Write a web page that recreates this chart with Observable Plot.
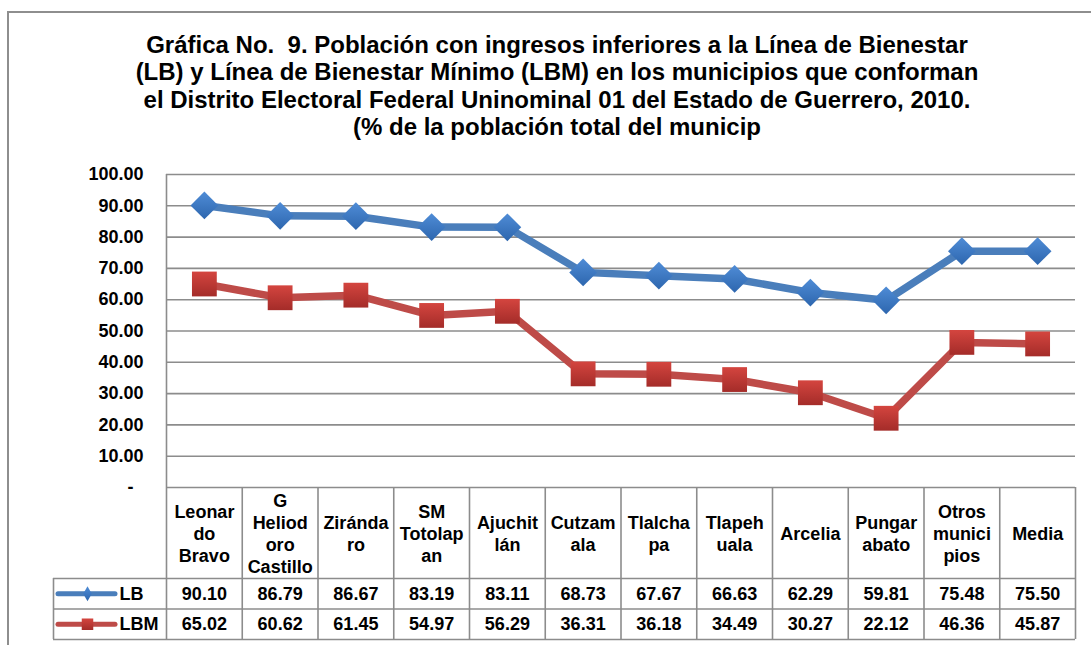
<!DOCTYPE html>
<html><head><meta charset="utf-8">
<script src="https://cdn.jsdelivr.net/npm/d3@7"></script>
<script src="https://cdn.jsdelivr.net/npm/@observablehq/plot@0.6"></script>
<style>
body{margin:0;background:#fff;overflow:hidden}
#wrap{position:relative;width:1091px;height:645px;overflow:hidden;font-family:"Liberation Sans",Arial,sans-serif;background:#fff}
#frame{position:absolute;left:7px;top:11px;width:1200px;height:700px;border:2px solid #8e8e8e;box-sizing:border-box}
#title{position:absolute;left:0;top:31px;width:1114px;text-align:center;font-weight:bold;font-size:24px;line-height:27.3px;color:#000}
#chart{position:absolute;left:0;top:160px}
</style></head><body>
<div id="wrap"><div id="frame"></div>
<div id="title">Gráfica No.&nbsp; 9. Población con ingresos inferiores a la Línea de Bienestar<br>(LB) y Línea de Bienestar Mínimo (LBM) en los municipios que conforman<br>el Distrito Electoral Federal Uninominal 01 del Estado de Guerrero, 2010.<br>(% de la población total del municip</div>
<div id="chart"></div></div>
<script>
// ---- data ----
const categories = ["Leonardo Bravo","G Heliodoro Castillo","Zirándaro","SM Totolapan","Ajuchitlán","Cutzamala","Tlalchapa","Tlapehuala","Arcelia","Pungarabato","Otros municipios","Media"];
const categoryLabels = ["Leonar\ndo\nBravo","G\nHeliod\noro\nCastillo","Ziránda\nro","SM\nTotolap\nan","Ajuchit\nlán","Cutzam\nala","Tlalcha\npa","Tlapeh\nuala","Arcelia","Pungar\nabato","Otros\nmunici\npios","Media"];
const lbValues  = [90.10, 86.79, 86.67, 83.19, 83.11, 68.73, 67.67, 66.63, 62.29, 59.81, 75.48, 75.50];
const lbmValues = [65.02, 60.62, 61.45, 54.97, 56.29, 36.31, 36.18, 34.49, 30.27, 22.12, 46.36, 45.87];
const seriesNames = ["LB", "LBM"];
const yTicks = [0, 10, 20, 30, 40, 50, 60, 70, 80, 90, 100];

// ---- layout ----
const W = 1091, H = 485;
const mL = 166, mR = 16, mT = 14, mB = 158;
const pxPerY = (H - mT - mB) / 100;
const pxPerX = (W - mL - mR) / categories.length;
const pxY = p => -p / pxPerY;      // pixels below zero line -> y units
const pxX = p => p / pxPerX;       // pixels right of plot left -> x units
const headerH = 91, rowH = 30.5;
const row1 = headerH, row2 = headerH + rowH, row3 = headerH + 2 * rowH;
const legendLeft = pxX(-113);
const grid = "#8c8c8c";
const font = "'Liberation Sans', Arial, sans-serif";

const idx = d3.range(categories.length);
const lbData = idx.map(i => ({i, v: lbValues[i]}));
const lbmData = idx.map(i => ({i, v: lbmValues[i]}));
const blue = "#4a7ebb", red = "#be4b48";

const chart = Plot.plot({
  width: W, height: H,
  marginLeft: mL, marginRight: mR, marginTop: mT, marginBottom: mB,
  x: {domain: [0, categories.length], axis: null},
  y: {domain: [0, 100], axis: null},
  style: {fontFamily: font, background: "transparent", overflow: "visible"},
  marks: [
    // gridlines
    Plot.ruleY(yTicks.filter(d => d > 0), {x1: 0, x2: categories.length, stroke: grid, strokeWidth: 1.6}),
    // table horizontal lines
    Plot.ruleY([0], {x1: 0, x2: categories.length, stroke: grid, strokeWidth: 1.6}),
    Plot.ruleY([pxY(row1), pxY(row2), pxY(row3)], {x1: legendLeft, x2: categories.length, stroke: grid, strokeWidth: 1.6}),
    // verticals
    Plot.ruleX([0], {y1: 100, y2: pxY(row3), stroke: grid, strokeWidth: 1.6}),
    Plot.ruleX(d3.range(1, categories.length + 1), {y1: 0, y2: pxY(row3), stroke: grid, strokeWidth: 1.6}),
    Plot.ruleX([legendLeft], {y1: pxY(row1), y2: pxY(row3), stroke: grid, strokeWidth: 1.6}),
    // y tick labels
    Plot.text(yTicks, {x: 0, y: d => d, text: d => d === 0 ? "-\u00a0\u00a0" : d.toFixed(2), textAnchor: "end", dx: -23, fontSize: 18, fontWeight: "bold", fill: "#000"}),
    // series lines
    Plot.line(lbData, {x: d => d.i + 0.5, y: "v", stroke: blue, strokeWidth: 7.5, strokeLinejoin: "round"}),
    Plot.line(lbmData, {x: d => d.i + 0.5, y: "v", stroke: red, strokeWidth: 7.5, strokeLinejoin: "round"}),
    Plot.dot(lbData, {x: d => d.i + 0.5, y: "v", symbol: "diamond2", r: 12.5, fill: "url(#gBlue)", stroke: "none"}),
    Plot.dot(lbmData, {x: d => d.i + 0.5, y: "v", symbol: "square", r: 14, fill: "url(#gRed)", stroke: "none"}),
    // table: category labels
    Plot.text(idx, {x: i => i + 0.5, y: pxY(headerH / 2), text: i => categoryLabels[i], fontSize: 18, fontWeight: "bold", lineHeight: 1.22, fill: "#000"}),
    // table: values
    Plot.text(idx, {x: i => i + 0.5, y: pxY(row1 + rowH / 2), text: i => lbValues[i].toFixed(2), fontSize: 18, fontWeight: "bold", fill: "#000"}),
    Plot.text(idx, {x: i => i + 0.5, y: pxY(row2 + rowH / 2), text: i => lbmValues[i].toFixed(2), fontSize: 18, fontWeight: "bold", fill: "#000"}),
    // legend keys
    Plot.ruleY([pxY(row1 + rowH / 2)], {x1: pxX(-108), x2: pxX(-51), stroke: blue, strokeWidth: 5, strokeLinecap: "round"}),
    Plot.ruleY([pxY(row2 + rowH / 2)], {x1: pxX(-108), x2: pxX(-51), stroke: red, strokeWidth: 5, strokeLinecap: "round"}),
    Plot.dot([0], {x: pxX(-79), y: pxY(row1 + rowH / 2), symbol: "diamond", r: 4.5, fill: "url(#gBlue)", stroke: "none"}),
    Plot.dot([0], {x: pxX(-79), y: pxY(row2 + rowH / 2), symbol: "square", r: 6.5, fill: "url(#gRed)", stroke: "none"}),
    Plot.text(seriesNames, {x: pxX(-47), y: (d, i) => pxY(row1 + rowH * i + rowH / 2), text: d => d, textAnchor: "start", fontSize: 18, fontWeight: "bold", fill: "#000"})
  ]
});

const defs = d3.select(chart).insert("defs", ":first-child");
function grad(id, c1, c2) {
  const g = defs.append("linearGradient").attr("id", id).attr("x1", 0).attr("y1", 0).attr("x2", 0).attr("y2", 1);
  g.append("stop").attr("offset", "0%").attr("stop-color", c1);
  g.append("stop").attr("offset", "100%").attr("stop-color", c2);
}
grad("gBlue", "#4f8cd6", "#2d66ae");
grad("gRed", "#d4453f", "#a42c29");
document.getElementById("chart").appendChild(chart);
</script>
</body></html>
